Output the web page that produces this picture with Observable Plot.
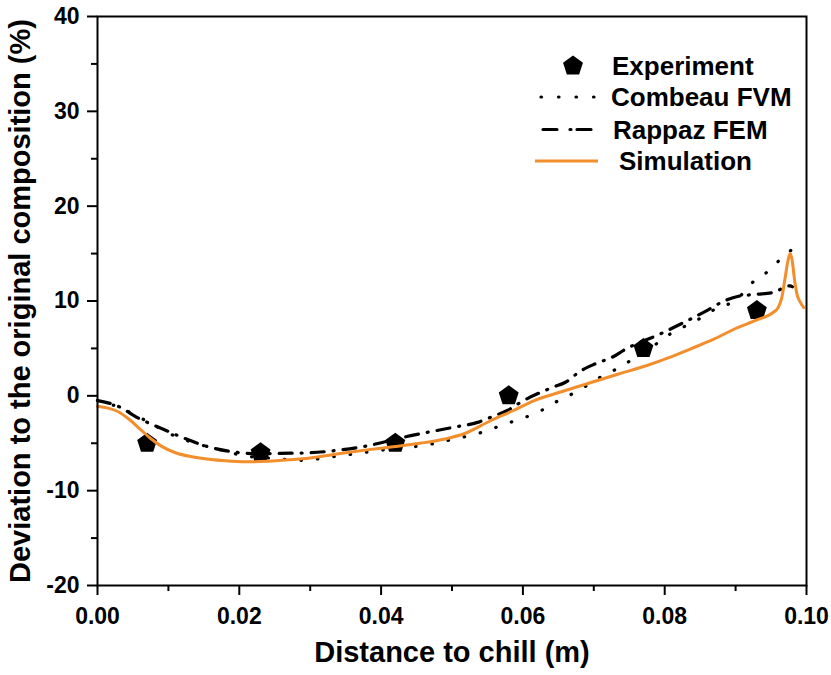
<!DOCTYPE html>
<html>
<head>
<meta charset="utf-8">
<script src="https://cdn.jsdelivr.net/npm/d3@7"></script>
<script src="https://cdn.jsdelivr.net/npm/@observablehq/plot@0.6"></script>
<style>
  html, body { margin: 0; padding: 0; background: #fff; }
</style>
</head>
<body>
<div id="chart"></div>
<script>
// ---- Data ----
const expX = [0.007, 0.023, 0.042, 0.058, 0.077, 0.093];
const expY = [-5, -6, -5, 0, 5, 9];

const combeauX = [0, 0.003, 0.006, 0.008, 0.0108, 0.0136, 0.0174, 0.0205, 0.025, 0.0287, 0.0334, 0.0404, 0.047, 0.0494, 0.054, 0.0578, 0.0604, 0.0627, 0.0646, 0.0665, 0.0686, 0.0705, 0.0728, 0.0747, 0.0785, 0.0804, 0.0825, 0.0846, 0.0865, 0.0905, 0.0923, 0.0942, 0.0959, 0.0979];
const combeauY = [-0.5, -1.2, -2.3, -3.1, -4.2, -4.96, -5.7, -6.3, -6.6, -6.8, -6.4, -5.7, -5.1, -4.7, -3.9, -2.9, -2.25, -1.5, -0.67, 0.03, 0.9, 1.8, 2.67, 3.5, 5.3, 6.36, 7.2, 8.0, 8.9, 10.4, 11.9, 12.9, 14.1, 15.4];

const rappazX = [0, 0.0026, 0.0059, 0.0092, 0.012, 0.0153, 0.0195, 0.0223, 0.0273, 0.0301, 0.0343, 0.0371, 0.0442, 0.0503, 0.0536, 0.0555, 0.0578, 0.0597, 0.0642, 0.066, 0.0681, 0.0703, 0.0728, 0.0742, 0.0794, 0.0834, 0.0862, 0.0881, 0.0904, 0.093, 0.0953, 0.0977, 0.098];
const rappazY = [-0.5, -1.0, -2.4, -3.5, -4.4, -5.3, -5.95, -6.1, -6.05, -6.0, -5.7, -5.4, -4.2, -3.3, -2.8, -2.25, -1.55, -0.67, 0.9, 1.43, 2.6, 3.4, 4.15, 4.8, 6.54, 8.0, 9.1, 9.9, 10.5, 10.7, 10.9, 11.6, 11.5];

const simX = [0, 0.0015, 0.003, 0.0045, 0.006, 0.0075, 0.009, 0.011, 0.0135, 0.016, 0.018, 0.021, 0.024, 0.027, 0.030, 0.034, 0.038, 0.042, 0.0455, 0.049, 0.0517, 0.0555, 0.0585, 0.0616, 0.0653, 0.0696, 0.0735, 0.0775, 0.0805, 0.0835, 0.087, 0.090, 0.093, 0.0953, 0.096, 0.0965, 0.097, 0.0974, 0.0977, 0.098, 0.0983, 0.0987, 0.0991, 0.0996];
const simY = [-1.1, -1.3, -1.7, -2.5, -3.5, -4.5, -5.3, -6.0, -6.45, -6.72, -6.85, -6.95, -6.9, -6.75, -6.55, -6.1, -5.7, -5.35, -5.0, -4.55, -4.0, -2.6, -1.6, -0.5, 0.4, 1.4, 2.3, 3.2, 4.0, 4.9, 6.0, 7.1, 8.0, 8.8, 9.3, 10.3, 12.5, 14.3, 15.0, 14.2, 12.3, 10.6, 9.9, 9.3];

const yTicks = [-20, -10, 0, 10, 20, 30, 40];
const yMinor = [-15, -5, 5, 15, 25, 35];
const xTicks = [0, 0.02, 0.04, 0.06, 0.08, 0.10];
const xMinor = [0.01, 0.03, 0.05, 0.07, 0.09];

const seriesNames = ["Experiment", "Combeau FVM", "Rappaz FEM", "Simulation"];
const xTitle = "Distance to chill (m)";
const yTitle = "Deviation to the original composition (%)";

// ---- Build tables ----
const zip = (xs, ys) => xs.map((x, i) => ({x, y: ys[i]}));
const expData = zip(expX, expY);
const combeau = zip(combeauX, combeauY);
const rappaz = zip(rappazX, rappazY);
const sim = zip(simX, simY);

const ORANGE = "#f28e2b";
const FONT = "'Liberation Sans', Arial, Helvetica, sans-serif";

const pentagon = {
  draw(context, size) {
    const r = Math.sqrt(size / 2.3776);
    for (let i = 0; i < 5; i++) {
      const a = -Math.PI / 2 + i * 2 * Math.PI / 5;
      const px = r * Math.cos(a), py = r * Math.sin(a);
      if (i === 0) context.moveTo(px, py); else context.lineTo(px, py);
    }
    context.closePath();
  }
};

const DOT_DASH = "0.5 16";
const DASH_DOT = "13 9 1 9";

const plot = Plot.plot({
  width: 831,
  height: 675,
  marginLeft: 97,
  marginRight: 25,
  marginTop: 16,
  marginBottom: 90,
  x: {domain: [0, 0.1]},
  y: {domain: [-20, 40]},
  style: {fontFamily: FONT, fontWeight: "bold", color: "black", background: "white", overflow: "visible"},
  marks: [
    Plot.axisY({ticks: yMinor, tickSize: 6, tickFormat: () => "", strokeWidth: 2, label: null}),
    Plot.axisY({ticks: yTicks, tickSize: 10, tickPadding: 8, tickFormat: d => String(d), fontSize: 23, fontWeight: "bold", strokeWidth: 2, label: null}),
    Plot.axisX({ticks: xMinor, tickSize: 6, tickFormat: () => "", strokeWidth: 2, label: null}),
    Plot.axisX({ticks: xTicks, tickSize: 10, tickPadding: 12, tickFormat: d3.format(".2f"), fontSize: 23, fontWeight: "bold", strokeWidth: 2, label: null}),
    Plot.line(combeau, {x: "x", y: "y", stroke: "black", strokeWidth: 3.2, strokeDasharray: DOT_DASH, strokeLinecap: "round", curve: "monotone-x"}),
    Plot.line(rappaz, {x: "x", y: "y", stroke: "black", strokeWidth: 3.2, strokeDasharray: DASH_DOT, strokeLinecap: "round", curve: "monotone-x"}),
    Plot.dot(expData, {x: "x", y: "y", symbol: pentagon, r: 9.1, fill: "black", stroke: "none"}),
    Plot.line(sim, {x: "x", y: "y", stroke: ORANGE, strokeWidth: 3, curve: "monotone-x"}),
    Plot.frame({stroke: "black", strokeWidth: 2}),
    Plot.text([xTitle], {frameAnchor: "bottom", textAnchor: "middle", dy: 76, fontSize: 29, fontWeight: "bold", fill: "black"}),
    Plot.text([yTitle], {frameAnchor: "left", textAnchor: "middle", dx: -77, rotate: -90, fontSize: 29, fontWeight: "bold", fill: "black"})
  ]
});

document.getElementById("chart").appendChild(plot);

// ---- Legend (inside plot area, top right) ----
const svg = d3.select(plot);
const lg = svg.append("g")
  .attr("font-family", FONT).attr("font-weight", "bold").attr("font-size", 26)
  .attr("text-anchor", "start");
const rows = [66, 97, 129.5, 161];
const textX = [612, 611, 613, 619];
// Experiment marker
lg.append("path")
  .attr("d", d3.symbol(pentagon, Math.PI * 9.1 * 9.1)())
  .attr("transform", `translate(573,${rows[0]})`)
  .attr("fill", "black");
// Combeau dotted sample
lg.append("line").attr("x1", 541).attr("x2", 594).attr("y1", rows[1]).attr("y2", rows[1])
  .attr("stroke", "black").attr("stroke-width", 3.2).attr("stroke-linecap", "round").attr("stroke-dasharray", "0.5 17");
// Rappaz dash-dot sample
lg.append("line").attr("x1", 543).attr("x2", 601).attr("y1", rows[2]).attr("y2", rows[2])
  .attr("stroke", "black").attr("stroke-width", 3.2).attr("stroke-linecap", "round").attr("stroke-dasharray", "14 13 1 6");
// Simulation sample
lg.append("line").attr("x1", 535).attr("x2", 598).attr("y1", rows[3]).attr("y2", rows[3])
  .attr("stroke", ORANGE).attr("stroke-width", 3);
seriesNames.forEach((name, i) => {
  lg.append("text").attr("x", textX[i]).attr("y", rows[i] + 9).attr("fill", "black").text(name);
});
</script>
</body>
</html>
